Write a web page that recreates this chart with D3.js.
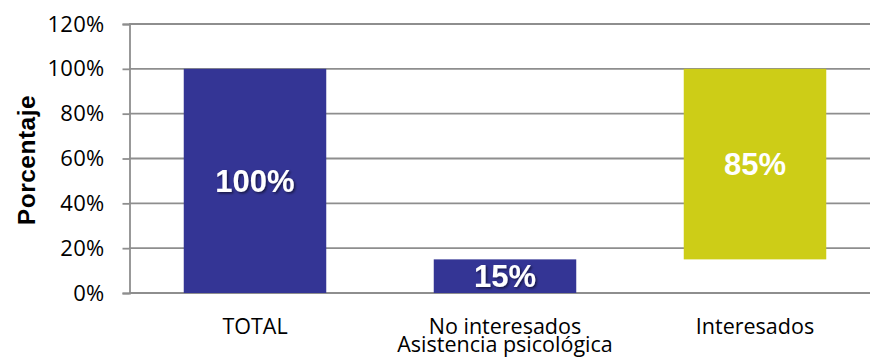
<!DOCTYPE html>
<html>
<head>
<meta charset="utf-8">
<script src="https://cdn.jsdelivr.net/npm/d3@7/dist/d3.min.js"></script>
<style>
  html, body { margin: 0; padding: 0; background: #fff; }
  svg { display: block; }
</style>
</head>
<body>
<div id="chart"></div>
<script>
// Waterfall: total respondents split into not interested / interested
const categories = ["TOTAL", "No interesados", "Interesados"];
const values = [100, 15, 85];          // bar heights (%)
const bases = [0, 0, 15];              // where each bar starts (%)
const valueLabels = ["100%", "15%", "85%"];
const barColors = ["#343595", "#343595", "#cdcd17"];
const yTicks = [0, 20, 40, 60, 80, 100, 120];
const yTitle = "Porcentaje";
const xTitle = "Asistencia psicológica";

const W = 870, H = 358;
const svg = d3.select("#chart").append("svg")
  .attr("width", W).attr("height", H);

const defs = svg.append("defs");
const shadow = defs.append("filter").attr("id", "lblShadow")
  .attr("x", "-20%").attr("y", "-20%").attr("width", "140%").attr("height", "140%");
shadow.append("feDropShadow")
  .attr("dx", 1.5).attr("dy", 1.5).attr("stdDeviation", 1)
  .attr("flood-color", "#000").attr("flood-opacity", 0.55);

const x = d3.scaleBand()
  .domain(categories)
  .range([130, 880])
  .paddingInner(0.43)
  .paddingOuter(0.215);

const y = d3.scaleLinear().domain([0, 120]).range([293, 24]);

// horizontal gridlines
svg.append("g")
  .selectAll("line")
  .data(yTicks)
  .join("line")
  .attr("x1", 129).attr("x2", 880)
  .attr("y1", d => y(d)).attr("y2", d => y(d))
  .attr("stroke", "#8e8e8e")
  .attr("stroke-width", 1.8);

// y axis
const yAxis = svg.append("g")
  .attr("transform", "translate(129.5,0)")
  .call(d3.axisLeft(y).tickValues(yTicks).tickFormat(d => d + "%")
    .tickSize(7).tickPadding(18));
yAxis.select(".domain").attr("stroke", "#8e8e8e").attr("stroke-width", 1.8);
yAxis.selectAll(".tick line").attr("stroke", "#8e8e8e").attr("stroke-width", 1.8);
yAxis.selectAll(".tick text")
  .attr("font-family", "'Open Sans', sans-serif")
  .attr("font-size", 22)
  .attr("letter-spacing", 0.3)
  .attr("fill", "#000");

// bars
svg.append("g")
  .selectAll("rect")
  .data(categories)
  .join("rect")
  .attr("x", d => x(d))
  .attr("width", x.bandwidth())
  .attr("y", (d, i) => y(bases[i] + values[i]))
  .attr("height", (d, i) => y(bases[i]) - y(bases[i] + values[i]))
  .attr("fill", (d, i) => barColors[i]);

// value labels inside bars
svg.append("g")
  .selectAll("text")
  .data(categories)
  .join("text")
  .attr("x", d => x(d) + x.bandwidth() / 2)
  .attr("y", (d, i) => y(bases[i] + values[i] / 2))
  .attr("dy", "0.36em")
  .attr("text-anchor", "middle")
  .attr("font-family", "'Liberation Sans', Arial, sans-serif")
  .attr("font-weight", "bold")
  .attr("font-size", 31)
  .attr("fill", "#fff")
  .attr("filter", (d, i) => i < 2 ? "url(#lblShadow)" : null)
  .text((d, i) => valueLabels[i]);

// category labels
svg.append("g")
  .selectAll("text")
  .data(categories)
  .join("text")
  .attr("x", d => x(d) + x.bandwidth() / 2)
  .attr("y", 334)
  .attr("text-anchor", "middle")
  .attr("font-family", "'Open Sans', sans-serif")
  .attr("font-size", 21.5)
  .attr("fill", "#000")
  .text(d => d);

// x axis title
svg.append("text")
  .attr("x", x(categories[1]) + x.bandwidth() / 2)
  .attr("y", 352)
  .attr("text-anchor", "middle")
  .attr("font-family", "'Open Sans', sans-serif")
  .attr("font-size", 21.5)
  .attr("fill", "#000")
  .text(xTitle);

// y axis title
svg.append("text")
  .attr("transform", "translate(35,160) rotate(-90)")
  .attr("text-anchor", "middle")
  .attr("font-family", "'Liberation Sans', Arial, sans-serif")
  .attr("font-weight", "bold")
  .attr("font-size", 24.5)
  .attr("letter-spacing", 0.5)
  .attr("fill", "#000")
  .text(yTitle);
</script>
</body>
</html>
